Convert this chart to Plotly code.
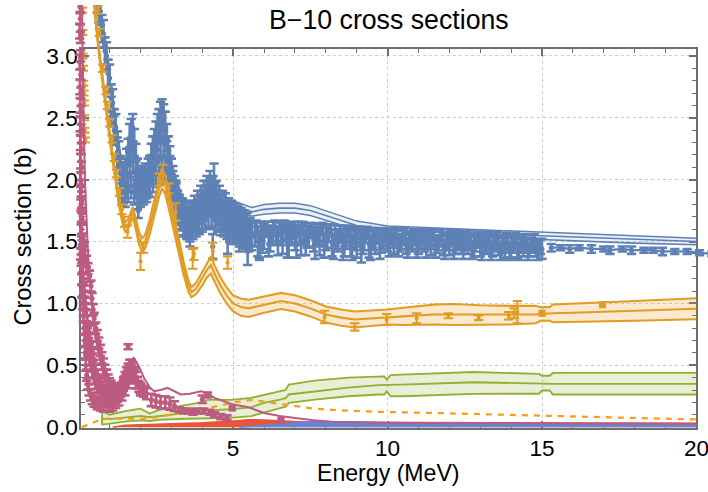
import plotly.graph_objects as go

# ---------------- layout geometry ----------------
# positions are given on a 708x492 design grid; the figure itself is drawn a little larger
REF_W, REF_H = 708, 492
W, H = 724, 508
S = 0.5 * (W / REF_W + H / REF_H)          # size factor for fonts, strokes and markers
FRAME_L, FRAME_R, FRAME_T, FRAME_B = 81, 693.5, 43.7, 424
X_RANGE = [0.085, 20.0]
Y_RANGE = [-0.008, 3.059]


def fx(px):
    return px / REF_W


def fy(py):
    return 1 - py / REF_H


def sz(v):
    return v * S


FONT = "Liberation Sans, Arial, sans-serif"
FRAME_COLOR = "#6e6e6e"

BLUE = "#5E81B5"
ORANGE = "#E19C24"
GREEN = "#8FB032"
RED = "#E95536"
BLUE2 = "#6685D9"
ORANGE2 = "#F89F13"
PINK = "#BC5B80"

X_TICKS = [5, 10, 15, 20]
X_TICK_TEXT = ["5", "10", "15", "20"]
Y_TICKS = [0.0, 0.5, 1.0, 1.5, 2.0, 2.5, 3.0]
Y_TICK_TEXT = ["0.0", "0.5", "1.0", "1.5", "2.0", "2.5", "3.0"]

# ---------------- total cross section: measurements ----------------
tot_lo_E = [0.60, 0.65, 0.70, 0.75, 0.80, 0.85, 0.90, 0.95, 1.00, 1.05,
            1.10, 1.15, 1.20, 1.25, 1.30, 1.35, 1.40, 1.45, 1.50, 1.55,
            1.60, 1.65, 1.70, 1.75, 1.80, 1.85, 1.90, 1.95, 2.00, 2.05,
            2.10, 2.15, 2.20, 2.25, 2.30, 2.35, 2.40, 2.45, 2.50, 2.55,
            2.60, 2.65, 2.70, 2.75, 2.80, 2.85, 2.90, 2.95, 3.00, 3.05,
            3.10, 3.15, 3.20, 3.25, 3.30, 3.35, 3.40, 3.45, 3.50, 3.55,
            3.60, 3.65, 3.70, 3.75, 3.80, 3.85, 3.90, 3.95, 4.00, 4.05,
            4.10, 4.15, 4.20, 4.25, 4.30, 4.35, 4.40, 4.45, 4.50, 4.55,
            4.60, 4.65, 4.70, 4.75, 4.80, 4.85, 4.90, 4.95, 5.00, 5.05,
            5.10, 5.15, 5.20, 5.25, 5.30, 5.35, 5.40, 5.45, 5.50, 5.55, 5.60]
tot_lo_y = [3.46, 3.38, 3.36, 3.22, 3.18, 3.04, 3.00, 2.86, 2.82, 2.66,
            2.62, 2.46, 2.42, 2.28, 2.20, 2.08, 2.02, 1.96, 2.06, 2.14,
            2.22, 2.34, 2.38, 2.42, 2.30, 2.18, 2.06, 1.98, 1.92, 2.00,
            1.94, 2.02, 1.96, 2.06, 2.08, 2.18, 2.24, 2.30, 2.36, 2.42,
            2.46, 2.52, 2.54, 2.50, 2.44, 2.34, 2.24, 2.16, 2.06, 2.00,
            1.92, 1.88, 1.80, 1.76, 1.70, 1.74, 1.66, 1.72, 1.66, 1.70,
            1.64, 1.72, 1.68, 1.76, 1.72, 1.80, 1.76, 1.84, 1.80, 1.88,
            1.84, 1.92, 1.88, 1.96, 1.90, 1.92, 1.86, 1.88, 1.80, 1.84,
            1.76, 1.80, 1.72, 1.78, 1.70, 1.74, 1.68, 1.72, 1.66, 1.70,
            1.64, 1.68, 1.62, 1.66, 1.60, 1.64, 1.58, 1.62, 1.56, 1.58, 1.54]
tot_lo_err = 0.11

tot_b_E = [1.40, 1.50, 1.60, 1.70, 1.80, 1.90, 2.00, 2.10, 2.20, 2.30,
           2.40, 2.50, 2.60, 2.70, 2.80, 2.90, 3.00, 3.10, 3.20, 3.30,
           3.40, 3.50, 3.60, 3.70, 3.80, 3.90, 4.00, 4.10, 4.20, 4.30,
           4.40, 4.50, 4.60, 4.70, 4.80, 4.90, 5.00, 5.10, 5.20, 5.30, 5.40, 5.50]
tot_b_y = [1.90, 1.88, 1.92, 1.95, 1.90, 1.86, 1.88, 1.90, 1.92, 1.96,
           2.00, 2.04, 2.06, 2.10, 2.08, 2.00, 1.94, 1.86, 1.78, 1.70,
           1.64, 1.62, 1.60, 1.62, 1.64, 1.66, 1.68, 1.70, 1.72, 1.72,
           1.70, 1.68, 1.65, 1.64, 1.62, 1.60, 1.58, 1.58, 1.56, 1.55, 1.54, 1.52]
tot_b_err = 0.10

tot_c_E = [1.05, 1.15, 1.25, 1.35, 1.45, 1.55, 1.65, 1.75, 1.85, 1.95,
           2.05, 2.15, 2.25, 2.35, 2.45, 2.55, 2.65, 2.75, 2.85, 2.95,
           3.05, 3.15, 3.25, 3.35, 3.45, 3.55, 3.65, 3.75, 3.85, 3.95,
           4.05, 4.15, 4.25, 4.35, 4.45, 4.55, 4.65, 4.75, 4.85, 4.95,
           5.05, 5.15, 5.25, 5.35, 5.45]
tot_c_y = [2.55, 2.40, 2.22, 2.05, 1.93, 2.02, 2.14, 2.18, 2.03, 1.93,
           1.95, 1.97, 2.00, 2.08, 2.16, 2.24, 2.30, 2.30, 2.19, 2.07,
           1.95, 1.85, 1.76, 1.72, 1.66, 1.64, 1.66, 1.70, 1.72, 1.76,
           1.79, 1.82, 1.84, 1.82, 1.79, 1.75, 1.72, 1.70, 1.68, 1.66,
           1.64, 1.62, 1.61, 1.59, 1.57]
tot_c_err = 0.12

tot_sp_E = [1.93, 3.60, 4.34, 4.38, 4.82, 5.20, 5.47, 5.85]
tot_sp_y = [1.75, 1.56, 1.46, 2.02, 1.50, 1.52, 1.42, 1.44]
tot_sp_err = [0.06, 0.10, 0.10, 0.11, 0.10, 0.10, 0.11, 0.09]

tot_mid_E = [5.7, 5.8, 5.9, 6.0, 6.1, 6.2, 6.3, 6.4, 6.5, 6.6, 6.7, 6.8, 6.9, 7.0,
             7.1, 7.2, 7.3, 7.4, 7.5, 7.6, 7.7, 7.8, 7.9, 8.0, 8.1, 8.2, 8.3, 8.4,
             8.5, 8.6, 8.7, 8.8, 8.9, 9.0, 9.1, 9.2, 9.3, 9.4, 9.5, 9.6, 9.7, 9.8,
             9.9, 10.0, 10.1, 10.2, 10.3, 10.4, 10.5, 10.6, 10.7, 10.8, 10.9, 11.0,
             11.1, 11.2, 11.3, 11.4, 11.5, 11.6, 11.7, 11.8, 11.9, 12.0, 12.1, 12.2,
             12.3, 12.4, 12.5, 12.6, 12.7, 12.8, 12.9, 13.0, 13.1, 13.2, 13.3, 13.4,
             13.5, 13.6, 13.7, 13.8, 13.9, 14.0, 14.1, 14.2, 14.3, 14.4, 14.5, 14.6,
             14.7, 14.8, 14.9, 15.0]
tot_mid_y = [1.56, 1.50, 1.58, 1.54, 1.60, 1.52, 1.58, 1.55, 1.60, 1.52, 1.58, 1.50, 1.57, 1.53,
             1.60, 1.51, 1.57, 1.54, 1.59, 1.52, 1.56, 1.50, 1.56, 1.53, 1.57, 1.49, 1.55, 1.51,
             1.56, 1.48, 1.54, 1.50, 1.55, 1.49, 1.54, 1.50, 1.55, 1.48, 1.53, 1.50, 1.54, 1.49,
             1.53, 1.50, 1.54, 1.48, 1.53, 1.49, 1.53, 1.48, 1.52, 1.49, 1.53, 1.48,
             1.52, 1.49, 1.53, 1.47, 1.52, 1.48, 1.52, 1.47, 1.51, 1.48, 1.52, 1.47,
             1.51, 1.48, 1.52, 1.47, 1.50, 1.46, 1.51, 1.47, 1.51, 1.47, 1.50, 1.46,
             1.50, 1.46, 1.49, 1.45, 1.49, 1.46, 1.49, 1.45, 1.48, 1.45, 1.48, 1.45,
             1.47, 1.44, 1.47, 1.44]
tot_mid_err = [0.10, 0.12, 0.08, 0.10, 0.06, 0.10, 0.08, 0.07, 0.06, 0.12, 0.08, 0.13, 0.08, 0.10,
               0.06, 0.12, 0.08, 0.09, 0.06, 0.10, 0.08, 0.11, 0.09, 0.10, 0.07, 0.11, 0.08, 0.09,
               0.07, 0.10, 0.08, 0.12, 0.07, 0.12, 0.08, 0.10, 0.06, 0.11, 0.08, 0.10, 0.06, 0.08,
               0.07, 0.08, 0.06, 0.08, 0.06, 0.07, 0.06, 0.08, 0.06, 0.07, 0.06, 0.08,
               0.06, 0.07, 0.06, 0.08, 0.06, 0.07, 0.06, 0.08, 0.06, 0.09, 0.06, 0.07,
               0.06, 0.08, 0.06, 0.07, 0.06, 0.08, 0.06, 0.09, 0.06, 0.07, 0.06, 0.08,
               0.06, 0.07, 0.06, 0.08, 0.06, 0.09, 0.06, 0.08, 0.06, 0.07, 0.05, 0.07,
               0.05, 0.06, 0.05, 0.08]

tot_mid2_E = [5.75, 5.85, 5.95, 6.05, 6.15, 6.25, 6.35, 6.45, 6.55, 6.65,
              6.75, 6.85, 6.95, 7.05, 7.15, 7.25, 7.35, 7.45, 7.55, 7.65,
              7.75, 7.85, 7.95, 8.05, 8.15, 8.25, 8.35, 8.45, 8.55, 8.65,
              8.75, 8.85, 8.95, 9.05, 9.15, 9.25, 9.35, 9.45, 9.55, 9.65,
              9.75, 9.85, 9.95, 10.05, 10.15, 10.25, 10.35, 10.45, 10.55, 10.65,
              10.75, 10.85, 10.95, 11.05, 11.15, 11.25, 11.35, 11.45, 11.55, 11.65,
              11.75, 11.85, 11.95, 12.05, 12.15, 12.25, 12.35, 12.45, 12.55, 12.65,
              12.75, 12.85, 12.95, 13.05, 13.15, 13.25, 13.35, 13.45, 13.55, 13.65,
              13.75, 13.85, 13.95, 14.05, 14.15, 14.25, 14.35, 14.45, 14.55, 14.65,
              14.75, 14.85, 14.95]
tot_mid2_y = [1.62, 1.47, 1.53, 1.61, 1.48, 1.55, 1.62, 1.50, 1.56, 1.62,
              1.49, 1.55, 1.61, 1.48, 1.55, 1.61, 1.49, 1.54, 1.60, 1.48,
              1.54, 1.60, 1.47, 1.53, 1.59, 1.46, 1.52, 1.58, 1.46, 1.52,
              1.58, 1.45, 1.51, 1.57, 1.45, 1.51, 1.57, 1.45, 1.51, 1.56,
              1.45, 1.51, 1.56, 1.45, 1.51, 1.56, 1.45, 1.50, 1.56, 1.44,
              1.50, 1.55, 1.44, 1.50, 1.55, 1.44, 1.50, 1.55, 1.44, 1.49,
              1.55, 1.43, 1.49, 1.54, 1.43, 1.49, 1.54, 1.43, 1.49, 1.54,
              1.43, 1.48, 1.53, 1.42, 1.48, 1.53, 1.42, 1.48, 1.53, 1.42,
              1.47, 1.52, 1.42, 1.47, 1.52, 1.42, 1.47, 1.51, 1.42, 1.47,
              1.51, 1.42, 1.46]
tot_mid2_err = [0.05, 0.10, 0.12, 0.05, 0.10, 0.08, 0.05, 0.11, 0.09, 0.05,
                0.12, 0.08, 0.05, 0.11, 0.08, 0.05, 0.10, 0.08, 0.05, 0.12,
                0.08, 0.05, 0.10, 0.08, 0.05, 0.10, 0.08, 0.05, 0.11, 0.08,
                0.05, 0.10, 0.08, 0.05, 0.12, 0.08, 0.05, 0.10, 0.08, 0.05,
                0.09, 0.07, 0.05, 0.07, 0.06, 0.05, 0.07, 0.06, 0.05, 0.07,
                0.06, 0.05, 0.07, 0.06, 0.05, 0.07, 0.06, 0.05, 0.07, 0.06,
                0.05, 0.07, 0.06, 0.05, 0.07, 0.06, 0.05, 0.07, 0.06, 0.05,
                0.07, 0.06, 0.05, 0.07, 0.06, 0.05, 0.07, 0.06, 0.05, 0.07,
                0.06, 0.05, 0.07, 0.06, 0.05, 0.07, 0.06, 0.05, 0.07, 0.06,
                0.05, 0.07, 0.06]

tot_hi_E = [15.3, 15.6, 15.9, 16.2, 16.6, 17.0, 17.2, 17.6, 17.9, 18.3, 18.6, 18.9, 19.3, 19.7, 20.1, 20.5]
tot_hi_y = [1.45, 1.45, 1.44, 1.45, 1.44, 1.44, 1.43, 1.44, 1.43, 1.43, 1.43, 1.42, 1.42, 1.42, 1.41, 1.40]
tot_hi_err = [0.03, 0.02, 0.03, 0.02, 0.03, 0.02, 0.03, 0.02, 0.03, 0.02, 0.02, 0.03, 0.02, 0.02, 0.02, 0.02]

# ---------------- total cross section: evaluation band ----------------
tot_band_E = [0.50, 0.60, 0.80, 1.00, 1.20, 1.40, 1.50, 1.75, 2.00, 2.20, 2.70, 3.00,
              3.50, 4.30, 5.00, 5.60, 6.00, 6.50, 7.00, 7.50, 8.00, 8.50, 9.00, 9.50,
              10.0, 11.0, 12.0, 13.0, 14.0, 15.0, 16.0, 18.0, 20.0]
tot_band_mid = [3.70, 3.45, 3.12, 2.80, 2.45, 2.10, 2.05, 2.30, 2.00, 1.98, 2.45, 2.10,
                1.72, 1.90, 1.80, 1.74, 1.76, 1.77, 1.77, 1.75, 1.71, 1.67, 1.63, 1.61,
                1.595, 1.585, 1.575, 1.565, 1.555, 1.545, 1.535, 1.515, 1.50]
tot_band_hw = [0.03, 0.03, 0.03, 0.03, 0.03, 0.03, 0.03, 0.03, 0.03, 0.03, 0.03, 0.03,
               0.03, 0.03, 0.03, 0.035, 0.04, 0.04, 0.04, 0.04, 0.04, 0.04, 0.035, 0.035,
               0.03, 0.03, 0.03, 0.03, 0.03, 0.03, 0.03, 0.028, 0.026]

# ---------------- elastic: measurements ----------------
el_E = [0.12, 0.13, 0.14, 0.15, 0.16, 0.17, 0.18, 0.19, 0.20, 0.22,
        0.62, 0.67, 0.78, 0.88, 0.93, 1.00, 1.08, 1.15, 1.22, 1.32,
        1.40, 1.48, 1.58, 2.00, 2.10, 2.60, 2.72, 2.92, 3.14, 3.69,
        3.73, 4.34, 4.82, 7.96, 8.94, 9.97, 10.94, 11.97, 12.95, 13.92,
        14.10, 14.20]
el_y = [3.37, 3.19, 3.00, 2.90, 2.78, 2.70, 2.62, 2.50, 2.40, 2.32,
        3.37, 3.19, 2.90, 2.72, 2.60, 2.46, 2.33, 2.18, 2.05, 1.90,
        1.76, 1.66, 1.58, 1.34, 1.45, 2.00, 2.05, 1.93, 1.74, 1.36,
        1.40, 1.42, 1.33, 0.89, 0.81, 0.87, 0.88, 0.90, 0.885, 0.90,
        0.92, 0.93]
el_err = [0.02, 0.02, 0.02, 0.02, 0.02, 0.02, 0.02, 0.02, 0.02, 0.02,
          0.03, 0.03, 0.03, 0.03, 0.03, 0.03, 0.03, 0.03, 0.03, 0.03,
          0.04, 0.04, 0.05, 0.07, 0.04, 0.05, 0.07, 0.04, 0.07, 0.08,
          0.05, 0.07, 0.05, 0.05, 0.03, 0.045, 0.04, 0.02, 0.02, 0.03,
          0.04, 0.09]
el_sq_E = [15.0, 16.96]
el_sq_y = [0.92, 0.99]

# ---------------- elastic: evaluation band ----------------
el_band_E = [0.40, 0.50, 0.60, 0.70, 0.80, 0.90, 1.00, 1.10, 1.20, 1.30,
             1.40, 1.50, 1.60, 1.70, 1.75, 1.85, 1.95, 2.05, 2.15, 2.30,
             2.45, 2.60, 2.70, 2.80, 2.95, 3.10, 3.25, 3.40, 3.55, 3.65,
             3.80, 4.00, 4.15, 4.28, 4.40, 4.60, 4.80, 5.00, 5.25, 5.50,
             6.00, 6.55, 7.00, 7.50, 8.00, 8.50, 8.93, 9.50, 10.0, 10.5,
             11.5, 12.1, 13.0, 14.0, 14.8, 14.95, 15.05, 15.25, 15.35, 16.0,
             18.0, 20.0]
el_band_mid = [3.70, 3.42, 3.17, 2.95, 2.74, 2.55, 2.36, 2.18, 1.99, 1.83,
               1.70, 1.62, 1.64, 1.72, 1.74, 1.64, 1.53, 1.47, 1.50, 1.62,
               1.78, 1.93, 2.01, 1.96, 1.80, 1.62, 1.45, 1.28, 1.14, 1.09,
               1.12, 1.20, 1.27, 1.31, 1.24, 1.14, 1.06, 1.00, 0.97, 0.96,
               0.99, 1.02, 1.00, 0.96, 0.91, 0.885, 0.87, 0.88, 0.89, 0.895,
               0.91, 0.91, 0.905, 0.905, 0.91, 0.915, 0.915, 0.915, 0.92, 0.925,
               0.94, 0.957]
el_band_hw = [0.03, 0.03, 0.03, 0.03, 0.03, 0.03, 0.03, 0.03, 0.03, 0.035,
              0.035, 0.04, 0.04, 0.04, 0.04, 0.045, 0.05, 0.055, 0.055, 0.06,
              0.065, 0.07, 0.08, 0.075, 0.07, 0.065, 0.06, 0.055, 0.045, 0.04,
              0.045, 0.055, 0.06, 0.07, 0.065, 0.065, 0.065, 0.065, 0.07, 0.07,
              0.065, 0.065, 0.065, 0.065, 0.065, 0.065, 0.065, 0.063, 0.06, 0.07,
              0.08, 0.085, 0.08, 0.075, 0.07, 0.055, 0.055, 0.055, 0.072, 0.075,
              0.08, 0.085]

# ---------------- inelastic band ----------------
inel_E = [0.755, 0.76, 1.0, 1.5, 2.0, 2.3, 2.6, 3.0, 3.5, 3.96,
          4.17, 4.6, 4.93, 5.58, 6.0, 6.55, 6.7, 6.8, 7.64, 8.72,
          9.7, 9.9, 9.97, 10.1, 10.46, 12.8, 14.9, 15.0, 15.25, 15.35, 20.0]
inel_top = [0.02, 0.13, 0.10, 0.13, 0.15, 0.11, 0.14, 0.16, 0.18, 0.20,
            0.22, 0.22, 0.22, 0.236, 0.26, 0.29, 0.30, 0.344, 0.376, 0.40,
            0.41, 0.41, 0.385, 0.42, 0.425, 0.446, 0.43, 0.415, 0.415, 0.438, 0.438]
inel_mid = [0.02, 0.07, 0.065, 0.08, 0.09, 0.08, 0.09, 0.10, 0.115, 0.13,
            0.135, 0.14, 0.145, 0.16, 0.196, 0.225, 0.235, 0.264, 0.29, 0.32,
            0.34, 0.34, 0.34, 0.342, 0.344, 0.363, 0.35, 0.35, 0.35, 0.35, 0.35]
inel_bot = [0.02, 0.02, 0.03, 0.045, 0.055, 0.05, 0.06, 0.065, 0.068, 0.07,
            0.07, 0.07, 0.075, 0.089, 0.115, 0.155, 0.165, 0.196, 0.223, 0.25,
            0.264, 0.264, 0.29, 0.25, 0.25, 0.269, 0.27, 0.296, 0.296, 0.264, 0.264]

# ---------------- dashed elastic component ----------------
dash_E = [0.10, 0.40, 0.70, 1.0, 1.5, 2.0, 2.5, 3.0, 3.5, 4.0, 4.5, 5.0,
          5.6, 6.2, 6.8, 7.6, 8.5, 9.8, 11.4, 12.7, 13.7, 15.0, 17.0, 20.0]
dash_y = [0.0, 0.03, 0.06, 0.07, 0.065, 0.065, 0.08, 0.10, 0.12, 0.145, 0.17, 0.20,
          0.22, 0.20, 0.18, 0.15, 0.135, 0.123, 0.115, 0.107, 0.097, 0.09, 0.08, 0.062]

# ---------------- small channels near zero ----------------
red_E = [1.1, 1.5, 2.0, 3.0, 4.0, 5.0, 5.5, 6.0, 6.5, 7.0, 8.0, 10.0, 15.0, 20.0]
red_y = [0.0, 0.015, 0.02, 0.028, 0.035, 0.05, 0.06, 0.058, 0.05, 0.045, 0.04, 0.037, 0.034, 0.032]
low_blue_E = [5.2, 6.0, 7.0, 7.6, 8.5, 10.0, 15.0, 20.0]
low_blue_y = [0.0, 0.015, 0.035, 0.045, 0.042, 0.036, 0.03, 0.027]

# ---------------- pink channel: measurements ----------------
pk_a_E = [0.04, 0.05, 0.055, 0.06, 0.065, 0.07, 0.075, 0.08, 0.085, 0.09,
          0.095, 0.10, 0.11, 0.13, 0.16, 0.20, 0.25, 0.30, 0.35, 0.40,
          0.43, 0.47, 0.50, 0.55, 0.60, 0.65, 0.70, 0.75, 0.80, 0.85,
          0.90, 0.95, 1.00, 1.05, 1.10, 1.15, 1.20, 1.25, 1.30, 1.35,
          1.40, 1.45, 1.50, 1.55, 1.60, 1.65, 1.70, 1.75, 1.80, 1.85,
          1.90, 1.95, 2.00, 2.10, 2.20]
pk_a_y = [3.40, 3.30, 3.15, 3.00, 2.85, 2.70, 2.55, 2.40, 2.25, 2.10,
          1.95, 1.82, 1.68, 1.52, 1.42, 1.38, 1.34, 1.28, 1.22, 1.14,
          1.04, 0.95, 0.88, 0.80, 0.74, 0.68, 0.62, 0.56, 0.51, 0.46,
          0.42, 0.38, 0.35, 0.33, 0.31, 0.30, 0.29, 0.29, 0.30, 0.30,
          0.32, 0.36, 0.40, 0.44, 0.47, 0.50, 0.50, 0.48, 0.44, 0.40,
          0.36, 0.33, 0.31, 0.29, 0.27]
pk_b_E = [0.06, 0.08, 0.10, 0.11, 0.12, 0.13, 0.15, 0.17, 0.19, 0.21,
          0.23, 0.26, 0.29, 0.33, 0.38, 0.44, 0.50, 0.60, 0.70, 0.80,
          0.90, 1.00, 1.10, 1.20, 1.30, 1.40, 1.50, 1.60, 1.70, 1.80, 1.90, 2.00]
pk_b_y = [1.40, 1.35, 1.28, 1.20, 1.10, 1.00, 0.90, 0.80, 0.70, 0.60,
          0.50, 0.42, 0.35, 0.30, 0.26, 0.23, 0.21, 0.19, 0.18, 0.17,
          0.17, 0.17, 0.18, 0.20, 0.22, 0.26, 0.30, 0.36, 0.42, 0.42, 0.36, 0.30]
pk_c_E = [0.10, 0.15, 0.20, 0.25, 0.30, 0.35, 0.40, 0.45, 0.50, 0.55, 0.60, 0.70, 0.80, 0.90]
pk_c_y = [1.10, 0.95, 0.80, 0.70, 0.62, 0.55, 0.50, 0.45, 0.40, 0.36, 0.33, 0.29, 0.26, 0.24]
pk_d_E = [0.12, 0.16, 0.20, 0.24, 0.28, 0.32, 0.36, 0.40, 0.45]
pk_d_y = [1.30, 1.15, 1.05, 0.95, 0.85, 0.77, 0.70, 0.64, 0.58]
pk_e_E = [0.03, 0.035, 0.04, 0.045, 0.05, 0.055, 0.06, 0.065, 0.07, 0.075,
          0.08, 0.09, 0.10, 0.11, 0.12]
pk_e_y = [3.20, 2.95, 2.75, 2.60, 2.45, 2.30, 2.15, 2.00, 1.90, 1.80,
          1.70, 1.60, 1.50, 1.45, 1.40]
pk_f_E = [0.14, 0.18, 0.22, 0.26, 0.30, 0.34, 0.38, 0.42, 0.46, 0.50,
          0.55, 0.60, 0.65, 0.70, 0.75, 0.80, 0.85, 0.90, 0.95, 1.00,
          1.05, 1.10, 1.15, 1.20, 1.25, 1.30, 1.35, 1.40, 1.45, 1.50,
          1.55, 1.60, 1.65, 1.70, 1.75, 1.80, 1.85]
pk_f_y = [1.20, 1.10, 1.00, 0.90, 0.80, 0.72, 0.65, 0.60, 0.55, 0.50,
          0.46, 0.42, 0.38, 0.35, 0.32, 0.30, 0.28, 0.26, 0.25, 0.24,
          0.23, 0.23, 0.23, 0.24, 0.25, 0.27, 0.29, 0.31, 0.34, 0.37,
          0.40, 0.43, 0.46, 0.46, 0.44, 0.40, 0.36]
pk_sp_E = [1.60, 2.35, 2.50, 2.65, 2.80, 2.95, 3.10, 3.25, 3.40, 3.55,
           3.70, 3.85, 4.00, 4.05, 4.17, 4.25, 4.40, 4.60, 4.80]
pk_sp_y = [0.65, 0.22, 0.21, 0.20, 0.20, 0.19, 0.17, 0.14, 0.13, 0.13,
           0.12, 0.13, 0.225, 0.13, 0.26, 0.12, 0.10, 0.085, 0.075]
pk_sp_err = [0.02, 0.05, 0.05, 0.05, 0.05, 0.05, 0.04, 0.02, 0.02, 0.02,
             0.02, 0.02, 0.03, 0.02, 0.02, 0.02, 0.02, 0.02, 0.02]
pk_sq_E = [4.97, 6.55]
pk_sq_y = [0.155, 0.054]

# ---------------- pink channel: evaluation ----------------
pk_line_E = [0.05, 0.08, 0.10, 0.15, 0.20, 0.30, 0.40, 0.50, 0.60, 0.70,
             0.80, 0.90, 1.00, 1.10, 1.20, 1.30, 1.46, 1.60, 1.78, 1.95,
             2.11, 2.30, 2.44, 2.65, 2.87, 3.10, 3.30, 3.60, 3.96, 4.20,
             4.39, 4.70, 5.04, 5.50, 6.00, 6.50, 7.10, 7.60, 8.20, 9.00,
             10.0, 12.0, 15.0, 20.0]
pk_line_y = [4.5, 3.9, 3.6, 2.6, 2.0, 1.4, 1.05, 0.82, 0.65, 0.52,
             0.42, 0.35, 0.30, 0.28, 0.29, 0.33, 0.45, 0.52, 0.56, 0.49,
             0.40, 0.32, 0.29, 0.30, 0.317, 0.29, 0.264, 0.27, 0.29, 0.27,
             0.236, 0.21, 0.18, 0.16, 0.115, 0.09, 0.07, 0.055, 0.043, 0.038,
             0.035, 0.032, 0.03, 0.027]


def rgba(hex_color, a):
    h = hex_color.lstrip("#")
    r, g, b = int(h[0:2], 16), int(h[2:4], 16), int(h[4:6], 16)
    return f"rgba({r},{g},{b},{a})"


DATA_AX = dict(xaxis="x2", yaxis="y2", showlegend=False, hoverinfo="skip")


def points(E, y, err, color, size=5, symbol="circle", cap=4.5, thick=2.5, mode="markers", lw=0):
    errs = err if isinstance(err, list) else [err] * len(E)
    return go.Scatter(
        x=E, y=y, mode=mode,
        marker=dict(color=color, size=sz(size), symbol=symbol, line=dict(width=0)),
        line=dict(color=color, width=sz(lw)),
        error_y=dict(type="data", array=errs, visible=True, color=color,
                     thickness=sz(thick), width=sz(cap)),
        **DATA_AX)


def band(E, lo, hi, mid, color, fill_alpha, lw=1.6):
    return [
        go.Scatter(x=E, y=lo, mode="lines", line=dict(color=color, width=sz(lw)), **DATA_AX),
        go.Scatter(x=E, y=hi, mode="lines", line=dict(color=color, width=sz(lw)),
                   fill="tonexty", fillcolor=rgba(color, fill_alpha), **DATA_AX),
        go.Scatter(x=E, y=mid, mode="lines", line=dict(color=color, width=sz(lw)), **DATA_AX),
    ]


traces = []
# anchor trace for the framed axes
traces.append(go.Scatter(x=[1.0], y=[-1.0], xaxis="x", yaxis="y", mode="markers",
                         marker=dict(size=1, opacity=0), showlegend=False, hoverinfo="skip"))

# total cross section
traces.append(points(tot_lo_E, tot_lo_y, tot_lo_err, BLUE))
traces.append(points(tot_b_E, tot_b_y, tot_b_err, BLUE))
traces.append(points(tot_c_E, tot_c_y, tot_c_err, BLUE))
traces.append(points(tot_sp_E, tot_sp_y, tot_sp_err, BLUE))
traces.append(points(tot_mid_E, tot_mid_y, tot_mid_err, BLUE))
traces.append(points(tot_mid2_E, tot_mid2_y, tot_mid2_err, BLUE))
tb_lo = [m - h for m, h in zip(tot_band_mid, tot_band_hw)]
tb_hi = [m + h for m, h in zip(tot_band_mid, tot_band_hw)]
traces += band(tot_band_E, tb_lo, tb_hi, tot_band_mid, BLUE, 0.12, lw=1.5)
traces.append(points(tot_hi_E, tot_hi_y, tot_hi_err, BLUE, mode="lines+markers", lw=2.2))

# elastic
eb_lo = [m - h for m, h in zip(el_band_mid, el_band_hw)]
eb_hi = [m + h for m, h in zip(el_band_mid, el_band_hw)]
traces += band(el_band_E, eb_lo, eb_hi, el_band_mid, ORANGE, 0.22, lw=2.0)
traces.append(points(el_E, el_y, el_err, ORANGE, size=4, thick=2.0))
traces.append(go.Scatter(x=el_sq_E, y=el_sq_y, mode="markers",
                         marker=dict(color=ORANGE, size=sz(7), symbol="square"), **DATA_AX))

# inelastic
traces += band(inel_E, inel_bot, inel_top, inel_mid, GREEN, 0.2, lw=1.8)

# dashed elastic component
traces.append(go.Scatter(x=dash_E, y=dash_y, mode="lines",
                         line=dict(color=ORANGE2, width=sz(2.2), dash="6px,6px"), **DATA_AX))

# small channels near zero
traces.append(go.Scatter(x=red_E, y=red_y, mode="lines", fill="tozeroy",
                         line=dict(color=RED, width=sz(1.5)), fillcolor=RED, **DATA_AX))
traces.append(go.Scatter(x=low_blue_E, y=low_blue_y, mode="lines", fill="tozeroy",
                         line=dict(color=BLUE2, width=sz(1.5)), fillcolor=BLUE2, **DATA_AX))

# pink channel
traces.append(go.Scatter(x=pk_line_E, y=pk_line_y, mode="lines",
                         line=dict(color=PINK, width=sz(2.0)), **DATA_AX))
for pe, py_, pr in [(pk_a_E, pk_a_y, 0.045), (pk_b_E, pk_b_y, 0.045),
                    (pk_c_E, pk_c_y, 0.05), (pk_d_E, pk_d_y, 0.05),
                    (pk_e_E, pk_e_y, 0.06), (pk_f_E, pk_f_y, 0.045)]:
    traces.append(points(pe, py_, pr, PINK))
traces.append(points(pk_sp_E, pk_sp_y, pk_sp_err, PINK))
traces.append(go.Scatter(x=pk_sq_E, y=pk_sq_y, mode="markers",
                         marker=dict(color=PINK, size=sz(7), symbol="square"), **DATA_AX))

fig = go.Figure(traces)

# data axes span the whole figure with the same scale as the frame, so marks may run past it
kx = (FRAME_R - FRAME_L) / (X_RANGE[1] - X_RANGE[0])
ky = (FRAME_B - FRAME_T) / (Y_RANGE[1] - Y_RANGE[0])
data_x_range = [X_RANGE[0] - FRAME_L / kx, X_RANGE[0] + (REF_W - FRAME_L) / kx]
data_y_range = [Y_RANGE[0] - (REF_H - FRAME_B) / ky, Y_RANGE[0] + FRAME_B / ky]

tick_font = dict(family=FONT, size=sz(22), color="black")
common = dict(showline=True, linecolor=FRAME_COLOR, linewidth=sz(2), mirror="ticks",
              ticks="inside", ticklen=sz(7), tickwidth=sz(1.5), tickcolor=FRAME_COLOR,
              showgrid=True, gridcolor="#cccccc", griddash="dot", gridwidth=1,
              zeroline=False, tickfont=tick_font, fixedrange=True)

fig.update_layout(
    width=W, height=H, margin=dict(l=0, r=0, t=0, b=0),
    paper_bgcolor="white", plot_bgcolor="rgba(0,0,0,0)", showlegend=False,
    xaxis=dict(domain=[fx(FRAME_L), fx(FRAME_R)], range=X_RANGE, anchor="y",
               tickmode="array", tickvals=X_TICKS, ticktext=X_TICK_TEXT,
               ticklabelstandoff=-1,
               minor=dict(dtick=1, tick0=0, ticks="inside", ticklen=sz(4),
                          tickcolor=FRAME_COLOR, tickwidth=sz(1.2), showgrid=False),
               **common),
    yaxis=dict(domain=[fy(FRAME_B), fy(FRAME_T)], range=Y_RANGE, anchor="x",
               tickmode="array", tickvals=Y_TICKS, ticktext=Y_TICK_TEXT,
               ticklabelstandoff=-3,
               minor=dict(dtick=0.1, tick0=0, ticks="inside", ticklen=sz(4),
                          tickcolor=FRAME_COLOR, tickwidth=sz(1.2), showgrid=False),
               **common),
    xaxis2=dict(domain=[0, 1], range=data_x_range, anchor="y2", visible=False, fixedrange=True),
    yaxis2=dict(domain=[0, 1], range=data_y_range, anchor="x2", visible=False, fixedrange=True),
    annotations=[
        dict(text="B\u221210 cross sections", x=fx(387), y=fy(15), xref="paper", yref="paper",
             xanchor="center", yanchor="middle", showarrow=False,
             font=dict(family=FONT, size=sz(26), color="black")),
        dict(text="Energy (MeV)", x=fx(387), y=fy(469), xref="paper", yref="paper",
             xanchor="center", yanchor="middle", showarrow=False,
             font=dict(family=FONT, size=sz(22.5), color="black")),
        dict(text="Cross section (b)", x=fx(22), y=fy(232), xref="paper", yref="paper",
             xanchor="center", yanchor="middle", showarrow=False, textangle=-90,
             font=dict(family=FONT, size=sz(23), color="black")),
    ],
)

fig.write_html("out.html")
